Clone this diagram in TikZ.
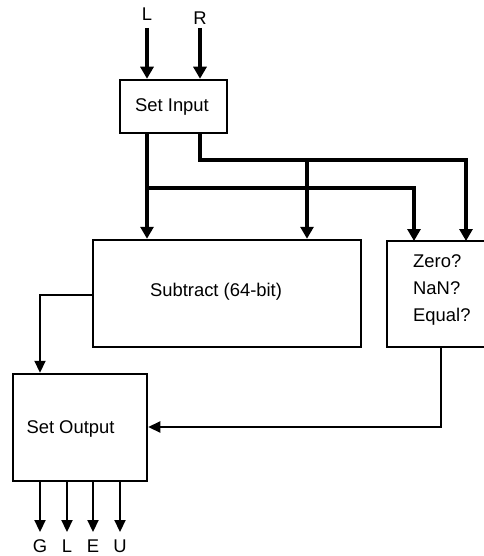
\documentclass[tikz,border=0pt]{standalone}
\usepackage{fontspec}
\setmainfont{Liberation Sans}
\usetikzlibrary{arrows.meta}
\begin{document}
\begin{tikzpicture}[x=1pt,y=-1pt,
  box/.style={draw,line width=2.5pt,rectangle,inner sep=0pt,fill=none},
  txt/.style={inner sep=0pt,font=\fontsize{18.4}{27}\selectfont},
  bus/.style={line width=4.5pt,line join=miter,-{Triangle[length=12pt,width=13pt]}},
  sig/.style={line width=2.2pt,line join=miter,-{Triangle[length=12pt,width=11pt]}}]
\useasboundingbox (0,0) rectangle (483,556);
% boxes
\node[box,minimum width=107pt,minimum height=53pt] (si) at (173.5,106.5) {};
\node[txt] (sit) at (172,106.5) {Set Input};
\node[box,minimum width=268pt,minimum height=107pt] (sub) at (227,293.5) {};
\node[txt] (subt) at (216,292) {Subtract (64-bit)};
\node[box,minimum width=120pt,minimum height=106pt] (zer) at (447,294) {};
\node[txt,anchor=west,align=left] (zert) at (413,290) {Zero?\\NaN?\\Equal?};
\node[box,minimum width=134pt,minimum height=107pt] (so) at (80,427.5) {};
\node[txt] (sot) at (70.5,428.5) {Set Output};
% input labels
\node[txt] (lL) at (147,14.5) {L};
\node[txt] (lR) at (200,18) {R};
\coordinate (Ls) at (147,28);
\coordinate (Rs) at (200,28);
\draw[bus] (Ls) -- (Ls |- si.north);
\draw[bus] (Rs) -- (Rs |- si.north);
% buses
\coordinate (a1) at (147,133);
\coordinate (b1) at (200,133);
\coordinate (ja) at (147,188);
\coordinate (jb) at (200,160);
\coordinate (jb2) at (307,160);
\draw[bus] (a1) -- (a1 |- sub.north);
\draw[bus] (ja) -- (414,188) -- (414,241);
\draw[bus] (b1) -- (jb) -- (466,160) -- (466,241);
\draw[bus] (jb2) -- (jb2 |- sub.north);
% signals
\coordinate (c1) at (40,295);
\draw[sig] (sub.west |- c1) -- (c1) -- (c1 |- so.north);
\coordinate (d1) at (441,427);
\draw[sig] (d1 |- zer.south) -- (d1) -- (so.east |- d1);
% outputs
\foreach \x/\n in {40/G,67/L,93/E,120/U}{
  \coordinate (o\n) at (\x,481);
  \draw[sig] (o\n) -- (\x,532);
  \node[txt] (out\n) at (\x,546) {\n};
}
\end{tikzpicture}
\end{document}
